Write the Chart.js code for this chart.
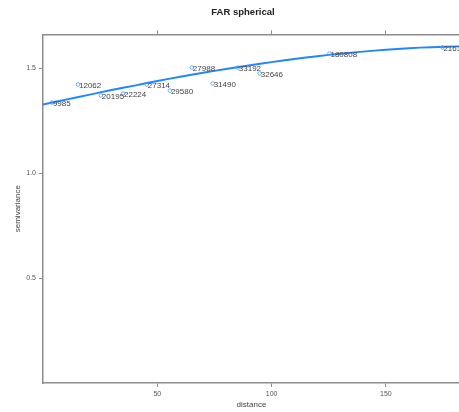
<!DOCTYPE html>
<html>
<head>
<meta charset="utf-8">
<script src="https://cdn.jsdelivr.net/npm/chart.js@4/dist/chart.umd.min.js"></script>
<style>
  html, body { margin: 0; padding: 0; background: #fff; overflow: hidden; }
  #wrap { width: 459px; height: 412px; overflow: hidden; }
</style>
</head>
<body>
<div id="wrap"><canvas id="vgmChart" width="486" height="412"></canvas></div>
<script>
// sample variogram: lag distance, semivariance, number of pairs
const distances = [3.9, 15.3, 25.3, 35.0, 45.4, 55.5, 65.1, 74.2, 85.2, 94.8, 125.3, 174.7];
const semivariance = [1.337, 1.423, 1.371, 1.380, 1.423, 1.394, 1.504, 1.428, 1.504, 1.476, 1.571, 1.600];
const pairCounts = ['9985', '12062', '20195', '22224', '27314', '29580', '27988', '31490', '33192', '32646', '180808', '216320'];

// fitted spherical model
const fitDistances = [0, 10, 20, 30, 40, 50, 60, 70, 80, 90, 100, 110, 120, 130, 140, 150, 160, 170, 182.4];
const fitValues = [1.328, 1.351, 1.374, 1.397, 1.418, 1.440, 1.460, 1.479, 1.497, 1.514, 1.530, 1.545, 1.558, 1.570, 1.580, 1.589, 1.596, 1.601, 1.605];

const xTicks = [50, 100, 150];
const yTicks = [0.5, 1.0, 1.5];

const axisGrey = '#8c8c8c';
const lineBlue = '#1f86ff';

// writes the pair count next to each point
const pairLabels = {
    id: 'pairLabels',
    afterDatasetsDraw(chart) {
        const ctx = chart.ctx;
        const xs = chart.scales.x, ys = chart.scales.y;
        ctx.save();
        ctx.font = '8px "Liberation Sans", Arial, sans-serif';
        ctx.fillStyle = '#444';
        ctx.textBaseline = 'middle';
        ctx.textAlign = 'left';
        distances.forEach(function(d, i) {
            ctx.fillText(pairCounts[i], xs.getPixelForValue(d) + 1, ys.getPixelForValue(semivariance[i]) + 1);
        });
        ctx.restore();
    }
};

function fixedTicks(list) {
    return function(scale) {
        scale.ticks = list.map(function(v) { return { value: v }; });
    };
}

const ctx = document.getElementById('vgmChart').getContext('2d');

new Chart(ctx, {
    type: 'scatter',
    data: {
        datasets: [{
            label: 'fit',
            data: fitDistances.map(function(d, i) { return { x: d, y: fitValues[i] }; }),
            showLine: true,
            borderColor: lineBlue,
            borderWidth: 1.9,
            pointRadius: 0,
            tension: 0.3,
            order: 2
        }, {
            label: 'sample',
            data: distances.map(function(d, i) { return { x: d, y: semivariance[i] }; }),
            showLine: false,
            pointStyle: 'circle',
            pointRadius: 1.8,
            borderColor: '#4c9dff',
            borderWidth: 0.8,
            backgroundColor: 'rgba(0,0,0,0)',
            order: 1
        }]
    },
    options: {
        responsive: false,
        animation: false,
        layout: { padding: 0 },
        plugins: {
            legend: { display: false },
            tooltip: { enabled: false },
            title: {
                display: true,
                text: 'FAR spherical',
                color: '#222',
                font: { family: '"Liberation Sans", Arial, sans-serif', size: 9.5, weight: 'bold' },
                padding: { top: 7, bottom: 6 }
            }
        },
        scales: {
            x: {
                type: 'linear',
                position: 'bottom',
                min: 0,
                max: 182.4,
                afterBuildTicks: fixedTicks(xTicks),
                afterFit: function(scale) { scale.height = 29; },
                grid: { drawOnChartArea: false, drawTicks: true, tickLength: 4, color: axisGrey, lineWidth: 1 },
                border: { color: axisGrey, width: 1.5 },
                ticks: { color: '#555', font: { family: '"Liberation Sans", Arial, sans-serif', size: 7 }, padding: 3, maxRotation: 0 },
                title: {
                    display: true,
                    text: 'distance',
                    color: '#444',
                    font: { family: '"Liberation Sans", Arial, sans-serif', size: 8 },
                    padding: { top: 0, bottom: 2 }
                }
            },
            x2: {
                type: 'linear',
                position: 'top',
                min: 0,
                max: 182.4,
                afterBuildTicks: fixedTicks(xTicks),
                afterFit: function(scale) { scale.height = 10; },
                grid: { drawOnChartArea: false, drawTicks: true, tickLength: 4, color: axisGrey, lineWidth: 1 },
                border: { color: axisGrey, width: 1.5 },
                ticks: { display: false }
            },
            y: {
                type: 'linear',
                min: 0,
                max: 1.662,
                afterBuildTicks: fixedTicks(yTicks),
                afterFit: function(scale) { scale.width = 43; },
                grid: { drawOnChartArea: false, drawTicks: true, tickLength: 4, color: axisGrey, lineWidth: 1 },
                border: { color: axisGrey, width: 1.5 },
                ticks: {
                    color: '#555',
                    font: { family: '"Liberation Sans", Arial, sans-serif', size: 7 },
                    padding: 3,
                    callback: function(v) { return v.toFixed(1); }
                },
                title: {
                    display: true,
                    text: 'semivariance',
                    color: '#444',
                    font: { family: '"Liberation Sans", Arial, sans-serif', size: 8 },
                    padding: { top: 13, bottom: 0 }
                }
            },
            // empty right margin, off the visible page
            yRight: {
                type: 'linear',
                position: 'right',
                min: 0,
                max: 1.662,
                afterFit: function(scale) { scale.width = 26; },
                grid: { display: false },
                border: { display: false },
                ticks: { display: false }
            }
        }
    },
    plugins: [pairLabels]
});
</script>
</body>
</html>
